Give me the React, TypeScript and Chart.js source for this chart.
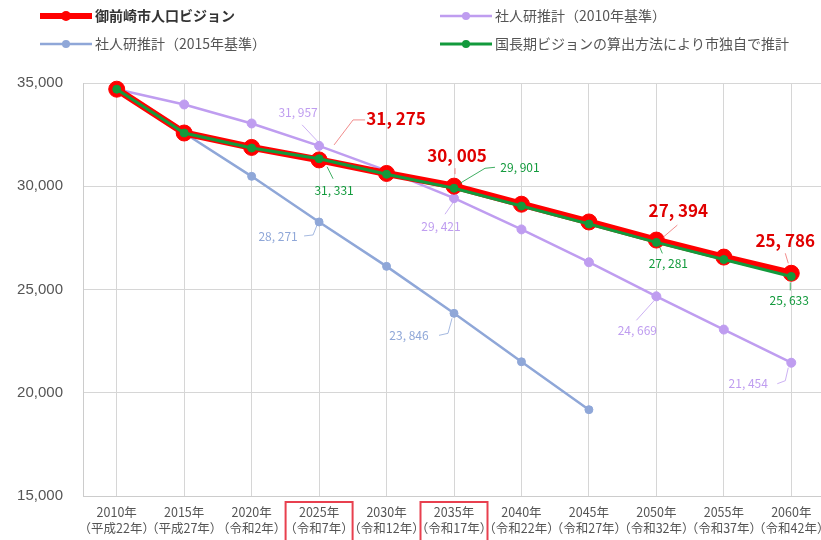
import React, { useEffect, useRef } from "react";
import { Chart, registerables } from "chart.js";

Chart.register(...registerables);

const years = ["2010年", "2015年", "2020年", "2025年", "2030年", "2035年", "2040年", "2045年", "2050年", "2055年", "2060年"];
const eras = ["（平成22年）", "（平成27年）", "（令和2年）", "（令和7年）", "（令和12年）", "（令和17年）", "（令和22年）", "（令和27年）", "（令和32年）", "（令和37年）", "（令和42年）"];

const seriesNames = [
  "御前崎市人口ビジョン",
  "社人研推計（2010年基準）",
  "社人研推計（2015年基準）",
  "国長期ビジョンの算出方法により市独自で推計",
];

const vision = [34700, 32578, 31880, 31275, 30620, 30005, 29130, 28270, 27394, 26570, 25786];
const ipss2010 = [34700, 33960, 33040, 31957, 30760, 29421, 27910, 26320, 24669, 23060, 21454];
const ipss2015 = [null, 32578, 30480, 28271, 26120, 23846, 21500, 19180, null, null, null];
const cityEst = [34700, 32578, 31850, 31331, 30580, 29901, 29040, 28170, 27281, 26450, 25633];

const yTicks = [15000, 20000, 25000, 30000, 35000];

const COLORS = {
  vision: "#ff0000",
  ipss2010: "#bf9df0",
  ipss2015: "#8fa7d8",
  city: "#129a3c",
};

// Label placement (styles/offsets only): dataset index, point index, text offset, leader polyline offsets
const labelSpecs = [
  { ds: 0, i: 3, dx: 77, dy: -41, leader: [[15, -15], [34, -40], [46, -40]] },
  { ds: 0, i: 5, dx: 3, dy: -31, leader: [[1, -18], [1, -12]] },
  { ds: 0, i: 8, dx: 22, dy: -30, leader: [[7, -3], [21, -15]] },
  { ds: 0, i: 10, dx: -6, dy: -33, leader: [[-6, -20], [-3, -10]] },
  { ds: 3, i: 3, dx: 15, dy: 32, leader: [[8, 8], [14, 20]] },
  { ds: 3, i: 5, dx: 66, dy: -21, leader: [[6, -5], [31, -20], [41, -21]] },
  { ds: 3, i: 8, dx: 12, dy: 21, leader: [[3, 4], [6, 11]] },
  { ds: 3, i: 10, dx: -2, dy: 24, leader: [[-1, 6], [-1, 14]] },
  { ds: 1, i: 3, dx: -21, dy: -33, leader: [[-1, -4], [-17, -21]] },
  { ds: 1, i: 5, dx: -13, dy: 28, leader: [[0, 3], [-9, 16]] },
  { ds: 1, i: 8, dx: -19, dy: 34, leader: [[-2, 4], [-20, 24]] },
  { ds: 1, i: 10, dx: -43, dy: 21, leader: [[-3, 5], [-6, 18], [-14, 21]] },
  { ds: 2, i: 3, dx: -41, dy: 14, leader: [[-2, 3], [-6, 13], [-15, 14]] },
  { ds: 2, i: 5, dx: -45, dy: 22, leader: [[-2, 5], [-6, 20], [-15, 22]] },
];

const highlighted = [3, 5];

const JP = '"Noto Sans CJK JP", "Noto Sans", sans-serif';

function fmt(n: number) {
  return n.toLocaleString("en-US").replace(",", ", ");
}

const overlayPlugin = {
  id: "overlay",
  afterDraw(chart: any) {
    const ctx = chart.ctx as CanvasRenderingContext2D;
    // Legend
    const legend = [
      { ds: 0, x: 40, y: 16, lw: 6, r: 5, color: COLORS.vision, bold: true },
      { ds: 1, x: 440, y: 16, lw: 2.5, r: 4, color: COLORS.ipss2010, bold: false },
      { ds: 2, x: 40, y: 44, lw: 2.5, r: 4, color: COLORS.ipss2015, bold: false },
      { ds: 3, x: 440, y: 44, lw: 3, r: 4, color: COLORS.city, bold: false },
    ];
    ctx.save();
    for (const it of legend) {
      ctx.strokeStyle = it.color;
      ctx.lineWidth = it.lw;
      ctx.beginPath();
      ctx.moveTo(it.x, it.y);
      ctx.lineTo(it.x + 52, it.y);
      ctx.stroke();
      ctx.fillStyle = it.color;
      ctx.beginPath();
      ctx.arc(it.x + 26, it.y, it.r, 0, Math.PI * 2);
      ctx.fill();
      ctx.font = `${it.bold ? "bold " : ""}14px ${JP}`;
      ctx.fillStyle = it.bold ? "#333" : "#555";
      ctx.textAlign = "left";
      ctx.textBaseline = "middle";
      ctx.fillText(seriesNames[it.ds], it.x + 55, it.y);
    }
    // Data labels
    for (const s of labelSpecs) {
      const meta = chart.getDatasetMeta(s.ds);
      const el = meta.data[s.i];
      const val = chart.data.datasets[s.ds].data[s.i];
      if (!el || val == null) continue;
      const px = el.x;
      const py = el.y;
      const isRed = s.ds === 0;
      const col = chart.data.datasets[s.ds].borderColor;
      ctx.strokeStyle = isRed ? "#f08080" : col;
      ctx.globalAlpha = isRed ? 0.9 : 0.8;
      ctx.lineWidth = 1;
      ctx.beginPath();
      s.leader.forEach((p: number[], k: number) => {
        if (k === 0) ctx.moveTo(px + p[0], py + p[1]);
        else ctx.lineTo(px + p[0], py + p[1]);
      });
      ctx.stroke();
      ctx.globalAlpha = 1;
      ctx.fillStyle = isRed ? "#e00000" : col;
      ctx.font = isRed ? `bold 17px ${JP}` : `12px ${JP}`;
      ctx.textAlign = "center";
      ctx.textBaseline = "middle";
      ctx.fillText(fmt(val as number), px + s.dx, py + s.dy);
    }
    // Highlight boxes around tick labels
    const xs = chart.scales.x;
    ctx.strokeStyle = "#e8404f";
    ctx.lineWidth = 2;
    for (const i of highlighted) {
      const cx = xs.getPixelForTick(i);
      ctx.strokeRect(cx - 33.5, 502, 67, 45);
    }
    ctx.restore();
  },
};

export default function App() {
  const ref = useRef<HTMLCanvasElement>(null);
  useEffect(() => {
    if (!ref.current) return;
    const mk = (label: string, data: (number | null)[], color: string, bw: number, pr: number, order: number) => ({
      label,
      data,
      borderColor: color,
      backgroundColor: color,
      pointBackgroundColor: color,
      pointBorderColor: color,
      borderWidth: bw,
      pointRadius: pr,
      pointBorderWidth: 1,
      tension: 0,
      spanGaps: false,
      clip: false,
      order,
    });
    const chart = new Chart(ref.current, {
      type: "line",
      data: {
        labels: years,
        datasets: [
          mk(seriesNames[0], vision, COLORS.vision, 7, 8, 1),
          mk(seriesNames[1], ipss2010, COLORS.ipss2010, 2.5, 4.5, 2),
          mk(seriesNames[2], ipss2015, COLORS.ipss2015, 2.5, 4, 3),
          mk(seriesNames[3], cityEst, COLORS.city, 3, 4, 0),
        ],
      },
      options: {
        responsive: false,
        animation: false,
        devicePixelRatio: 1,
        layout: { autoPadding: false, padding: { top: 83, left: 0, right: 0, bottom: 0 } },
        plugins: {
          legend: { display: false },
          tooltip: { enabled: false },
          title: { display: false },
        },
        scales: {
          x: {
            offset: true,
            grid: { offset: false, color: "#d6d6d6", lineWidth: 1, drawTicks: false },
            border: { color: "#cccccc", width: 1 },
            ticks: {
              autoSkip: false,
              maxRotation: 0,
              minRotation: 0,
              padding: 8,
              color: "#555",
              font: { family: JP, size: 12.5, lineHeight: 1.3 },
              callback: (_v: any, i: number) => [years[i], eras[i]],
            },
            afterFit: (s: any) => {
              s.height = 44;
              s.paddingLeft = 0;
              s.paddingRight = 0;
            },
          },
          y: {
            min: yTicks[0],
            max: yTicks[yTicks.length - 1],
            afterBuildTicks: (s: any) => {
              s.ticks = yTicks.map((v) => ({ value: v }));
            },
            grid: { color: "#d6d6d6", lineWidth: 1, drawTicks: false },
            border: { color: "#cccccc", width: 1 },
            ticks: {
              padding: 20,
              color: "#555",
              font: { family: '"Liberation Sans", Arial, sans-serif', size: 15 },
              callback: (v: any) => Number(v).toLocaleString("en-US"),
            },
            afterFit: (s: any) => {
              s.width = 83;
              s.paddingTop = 0;
              s.paddingBottom = 0;
            },
          },
        },
      },
      plugins: [overlayPlugin],
    } as any);
    return () => chart.destroy();
  }, []);
  return (
    <div style={{ position: "absolute", left: 0, top: 0, width: 821, height: 540, overflow: "hidden", background: "#fff" }}>
      <canvas ref={ref} width={825} height={540} style={{ width: 825, height: 540, display: "block" }} />
    </div>
  );
}
